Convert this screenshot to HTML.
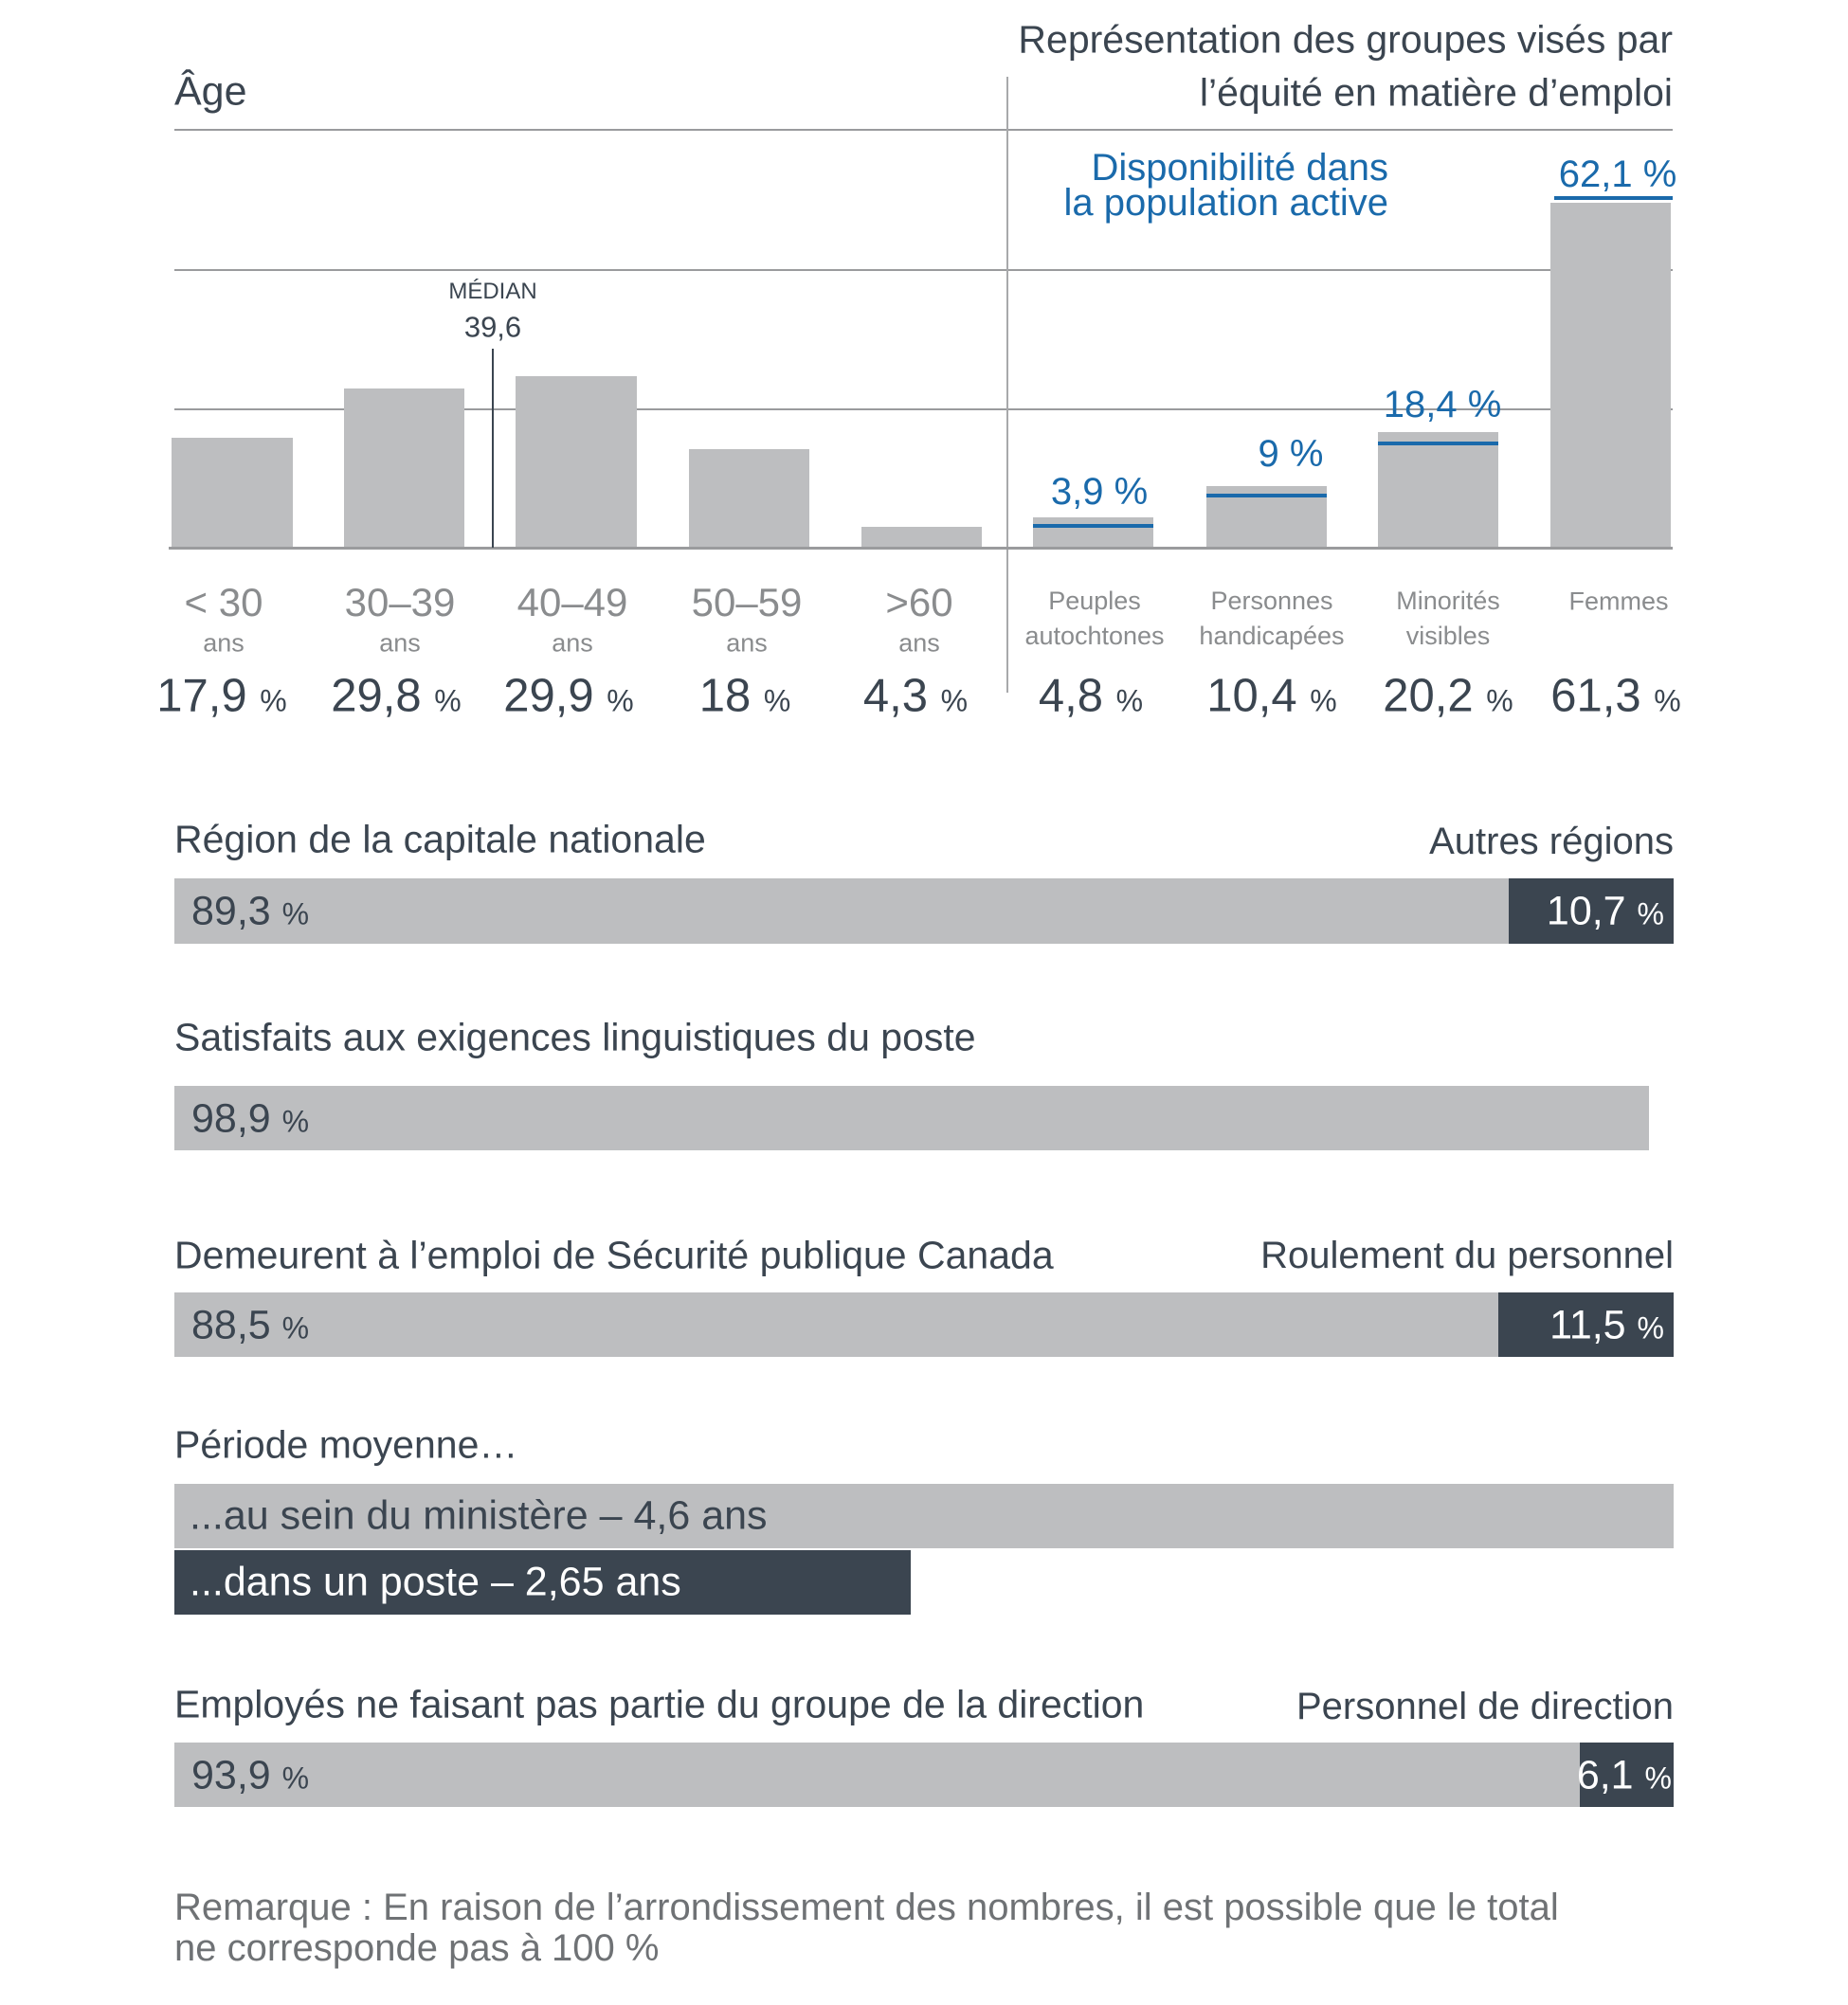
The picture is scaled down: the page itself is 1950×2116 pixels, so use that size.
<!DOCTYPE html>
<html><head><meta charset="utf-8"><style>
body{margin:0;width:1950px;height:2116px;background:#fff;position:relative;overflow:hidden;font-family:"Liberation Sans",sans-serif;color:#3b4550}
div{position:absolute}
.c{transform:translate(-50%,-50%);white-space:nowrap;line-height:1}
.l{transform:translateY(-50%);white-space:nowrap;line-height:1}
.r{transform:translate(-100%,-50%);white-space:nowrap;line-height:1}
.bar{background:#bdbec0}
.dk{background:#3b4550}
.g{color:#8a8c8e}
.age{font-size:42px}
.ans{font-size:27px}
.cat{font-size:27px;text-align:center;line-height:37px}
.pct{font-size:49px;color:#3b4550}
.pct small{font-size:32px}
.blue{color:#1a6aab;font-size:40px}
.bl{background:#1a6aab;height:4px}
.h{font-size:41px}
.bv{font-size:43px}
.bv small{font-size:32px}
.line{background:#9a9b9d;height:2px}
</style></head><body>
<div class="l h" style="left:184px;top:97px;font-size:43px">Âge</div>
<div class="r h" style="left:1765px;top:42px">Représentation des groupes visés par</div>
<div class="r h" style="left:1765px;top:98px">l’équité en matière d’emploi</div>
<div class="line" style="left:184px;top:136px;width:1581px"></div>
<div class="line" style="left:184px;top:284px;width:1581px"></div>
<div class="line" style="left:184px;top:431px;width:1581px"></div>
<div style="left:1062px;top:81px;width:2px;height:650px;background:#a8a9ab"></div>

<div class="bar" style="left:181px;top:462px;width:128px;height:116px"></div>
<div class="bar" style="left:363px;top:410px;width:127px;height:168px"></div>
<div class="bar" style="left:544px;top:397px;width:128px;height:181px"></div>
<div class="bar" style="left:727px;top:474px;width:127px;height:104px"></div>
<div class="bar" style="left:909px;top:556px;width:127px;height:22px"></div>
<div class="bar" style="left:1090px;top:546px;width:127px;height:32px"></div>
<div class="bar" style="left:1273px;top:513px;width:127px;height:65px"></div>
<div class="bar" style="left:1454px;top:456px;width:127px;height:122px"></div>
<div class="bar" style="left:1636px;top:214px;width:127px;height:364px"></div>
<div style="left:178px;top:577px;width:1587px;height:3px;background:#9a9b9d"></div>

<div class="bl" style="left:1090px;top:553px;width:127px"></div>
<div class="bl" style="left:1273px;top:521px;width:127px"></div>
<div class="bl" style="left:1454px;top:466px;width:127px"></div>
<div class="bl" style="left:1640px;top:207px;width:125px"></div>

<div style="left:519px;top:368px;width:2px;height:210px;background:#3b4550"></div>
<div class="c" style="left:520px;top:308px;font-size:24px">MÉDIAN</div>
<div class="c" style="left:520px;top:345px;font-size:31px">39,6</div>

<div class="r blue" style="left:1465px;top:177px">Disponibilité dans</div>
<div class="r blue" style="left:1465px;top:214px">la population active</div>
<div class="c blue" style="left:1160px;top:519px">3,9 %</div>
<div class="c blue" style="left:1362px;top:479px">9 %</div>
<div class="c blue" style="left:1522px;top:427px">18,4 %</div>
<div class="c blue" style="left:1707px;top:184px">62,1 %</div>

<div class="c g age" style="left:236px;top:636px">&lt; 30</div>
<div class="c g age" style="left:422px;top:636px">30–39</div>
<div class="c g age" style="left:604px;top:636px">40–49</div>
<div class="c g age" style="left:788px;top:636px">50–59</div>
<div class="c g age" style="left:970px;top:636px">&gt;60</div>
<div class="c g ans" style="left:236px;top:679px">ans</div>
<div class="c g ans" style="left:422px;top:679px">ans</div>
<div class="c g ans" style="left:604px;top:679px">ans</div>
<div class="c g ans" style="left:788px;top:679px">ans</div>
<div class="c g ans" style="left:970px;top:679px">ans</div>

<div class="c g cat" style="left:1155px;top:653px">Peuples<br>autochtones</div>
<div class="c g cat" style="left:1342px;top:653px">Personnes<br>handicapées</div>
<div class="c g cat" style="left:1528px;top:653px">Minorités<br>visibles</div>
<div class="c g cat" style="left:1708px;top:635px">Femmes</div>

<div class="c pct" style="left:234px;top:735px">17,9 <small>%</small></div>
<div class="c pct" style="left:418px;top:735px">29,8 <small>%</small></div>
<div class="c pct" style="left:600px;top:735px">29,9 <small>%</small></div>
<div class="c pct" style="left:786px;top:735px">18 <small>%</small></div>
<div class="c pct" style="left:966px;top:735px">4,3 <small>%</small></div>
<div class="c pct" style="left:1151px;top:735px">4,8 <small>%</small></div>
<div class="c pct" style="left:1342px;top:735px">10,4 <small>%</small></div>
<div class="c pct" style="left:1528px;top:735px">20,2 <small>%</small></div>
<div class="c pct" style="left:1705px;top:735px">61,3 <small>%</small></div>

<div class="l h" style="left:184px;top:886px">Région de la capitale nationale</div>
<div class="r h" style="left:1766px;top:888px;font-size:40px">Autres régions</div>
<div class="bar" style="left:184px;top:927px;width:1410px;height:69px"></div>
<div class="dk" style="left:1592px;top:927px;width:174px;height:69px"></div>
<div class="l bv" style="left:202px;top:962px">89,3 <small>%</small></div>
<div class="r bv" style="left:1756px;top:962px;color:#fff">10,7 <small>%</small></div>

<div class="l h" style="left:184px;top:1095px">Satisfaits aux exigences linguistiques du poste</div>
<div class="bar" style="left:184px;top:1146px;width:1556px;height:68px"></div>
<div class="l bv" style="left:202px;top:1181px">98,9 <small>%</small></div>

<div class="l h" style="left:184px;top:1325px">Demeurent à l’emploi de Sécurité publique Canada</div>
<div class="r h" style="left:1766px;top:1325px;font-size:40px">Roulement du personnel</div>
<div class="bar" style="left:184px;top:1364px;width:1399px;height:68px"></div>
<div class="dk" style="left:1581px;top:1364px;width:185px;height:68px"></div>
<div class="l bv" style="left:202px;top:1399px">88,5 <small>%</small></div>
<div class="r bv" style="left:1756px;top:1399px;color:#fff">11,5 <small>%</small></div>

<div class="l h" style="left:184px;top:1525px">Période moyenne…</div>
<div class="bar" style="left:184px;top:1566px;width:1582px;height:68px"></div>
<div class="dk" style="left:184px;top:1636px;width:777px;height:68px"></div>
<div class="l bv" style="left:200px;top:1600px">...au sein du ministère – 4,6 ans</div>
<div class="l bv" style="left:200px;top:1670px;color:#fff">...dans un poste – 2,65 ans</div>

<div class="l h" style="left:184px;top:1799px">Employés ne faisant pas partie du groupe de la direction</div>
<div class="r h" style="left:1766px;top:1801px;font-size:40px">Personnel de direction</div>
<div class="bar" style="left:184px;top:1839px;width:1485px;height:68px"></div>
<div class="dk" style="left:1667px;top:1839px;width:99px;height:68px"></div>
<div class="l bv" style="left:202px;top:1874px">93,9 <small>%</small></div>
<div class="r bv" style="left:1764px;top:1874px;color:#fff">6,1 <small>%</small></div>

<div class="l" style="left:184px;top:2013px;font-size:40px;color:#6f7275">Remarque : En raison de l’arrondissement des nombres, il est possible que le total</div>
<div class="l" style="left:184px;top:2056px;font-size:40px;color:#6f7275">ne corresponde pas à 100 %</div>
</body></html>
